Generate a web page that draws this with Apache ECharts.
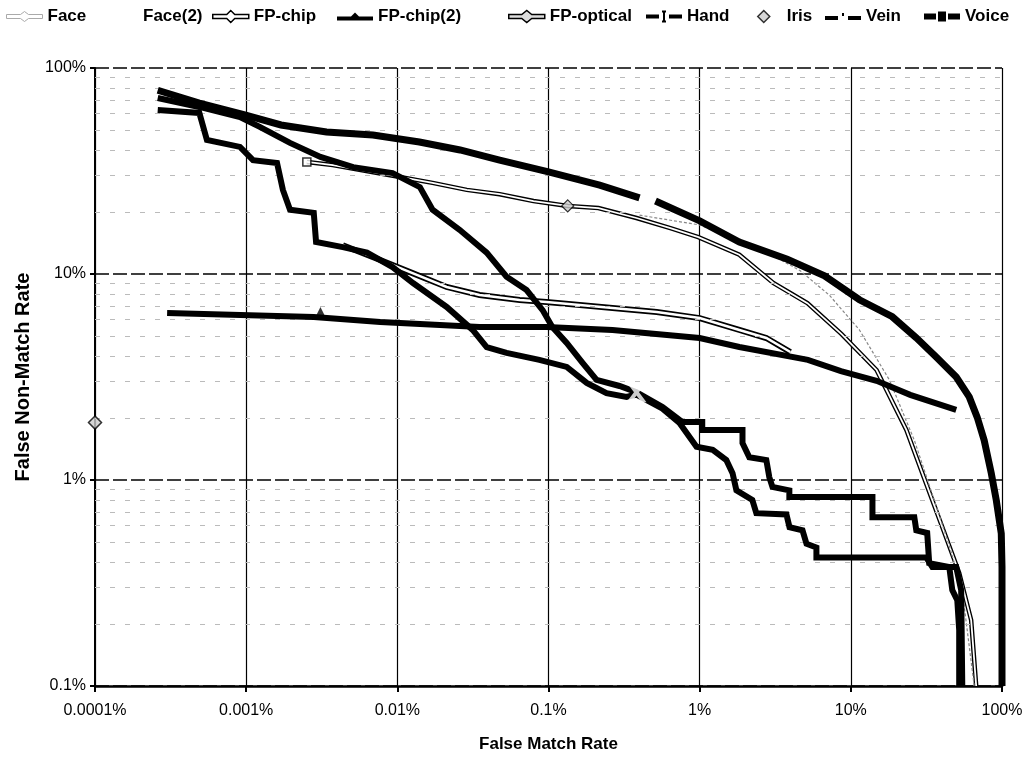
<!DOCTYPE html>
<html>
<head>
<meta charset="utf-8">
<script src="https://cdn.jsdelivr.net/npm/echarts@6/dist/echarts.min.js"></script>
<style>
    html, body { margin: 0; padding: 0; background: #fff; }
    #chart { width: 1034px; height: 767px; }
</style>
</head>
<body>
<div id="chart"></div>
<script>
// tick labels
const xTickLabels = ['0.0001%', '0.001%', '0.01%', '0.1%', '1%', '10%', '100%'];
const yTickLabels = ['0.1%', '1%', '10%', '100%'];
const minorY = [0.2, 0.3, 0.4, 0.5, 0.6, 0.7, 0.8, 0.9, 2, 3, 4, 5, 6, 7, 8, 9, 20, 30, 40, 50, 60, 70, 80, 90];

// curves: [false match rate %, false non-match rate %]
const handCurve = [
    [0.00026, 78], [0.00049, 67.6], [0.00098, 59.2], [0.0017, 52.9], [0.0034, 48.9], [0.0069, 47.3],
    [0.014, 43.7], [0.026, 40], [0.0475, 35.7], [0.1, 31.3], [0.218, 27], [0.40, 23.4], [0.45, '-'],
    [0.51, 22.6], [1.0, 18.1], [1.83, 14.3], [3.8, 11.8], [6.7, 9.8], [11.4, 7.5], [18.8, 6.2],
    [27.1, 4.9], [36.7, 3.95], [49.8, 3.16], [60.7, 2.53], [68.5, 2.02], [76.2, 1.56], [84.9, 1.08],
    [91.6, 0.80], [98.9, 0.55], [100, 0.38], [100, 0.1]
];
const voiceCurve = [
    [0.00026, 71.5], [0.00049, 64.7], [0.00091, 57.8], [0.00123, 51.8], [0.00195, 43.3], [0.0031, 37],
    [0.0051, 33], [0.0093, 30.9], [0.0141, 26.4], [0.0171, 20.5], [0.0258, 16.4], [0.039, 12.7],
    [0.0528, 9.7], [0.0716, 8.36], [0.0914, 6.68], [0.106, 5.53], [0.132, 4.63], [0.168, 3.70],
    [0.208, 3.06], [0.295, 2.86], [0.382, 2.67], [0.568, 2.26], [0.77, 1.91], [1.04, 1.91], [1.04, 1.75],
    [1.92, 1.75], [1.92, 1.51], [2.13, 1.29], [2.76, 1.25], [2.89, 1.03], [3.03, 0.925], [3.92, 0.89],
    [3.92, 0.826], [13.9, 0.826], [13.9, 0.66], [26.3, 0.66], [27.1, 0.57], [32, 0.553], [33, 0.395],
    [44.8, 0.378], [46.9, 0.292], [50.6, 0.261], [52.1, 0.187], [52.1, 0.1]
];
const veinCurve = [
    [0.00026, 62.5], [0.00049, 60.5], [0.00055, 44.7], [0.00091, 41.4], [0.00111, 35.7], [0.0016, 34.6],
    [0.00175, 25.6], [0.00195, 20.5], [0.0028, 19.8], [0.0029, 14.3], [0.00436, 13.5], [0.0063, 12.7],
    [0.0093, 10.8], [0.0127, 9.04], [0.0212, 6.92], [0.0315, 5.35], [0.039, 4.42], [0.0528, 4.14],
    [0.087, 3.83], [0.132, 3.54], [0.179, 2.96], [0.242, 2.64], [0.328, 2.53], [0.382, 2.6],
    [0.568, 2.22], [0.736, 1.89], [0.953, 1.45], [1.22, 1.40], [1.50, 1.25], [1.65, 1.08], [1.75, 0.89],
    [2.23, 0.80], [2.37, 0.69], [3.75, 0.68], [3.93, 0.59], [4.79, 0.57], [5.09, 0.49], [5.92, 0.47],
    [5.92, 0.42], [31.6, 0.42], [34.6, 0.378], [49.8, 0.378], [53.7, 0.292], [54.6, 0.1]
];
const chip2Curve = [
    [0.0003, 6.47], [0.0028, 6.18], [0.0077, 5.85], [0.035, 5.53], [0.097, 5.53], [0.265, 5.35],
    [1.0, 4.89], [1.83, 4.42], [5.2, 3.83], [8.6, 3.38], [14.8, 3.03], [24.7, 2.59], [49.8, 2.19]
];
const chipCurve = [
    [0.00436, 13.8], [0.0077, 11.7], [0.0126, 10.1], [0.0212, 8.65], [0.035, 7.91], [0.0645, 7.48],
    [0.097, 7.31], [0.161, 7.08], [0.265, 6.84], [0.52, 6.54], [1.0, 6.11], [1.83, 5.35], [2.76, 4.89],
    [3.98, 4.18]
];
const opticalCurve = [
    [0.00252, 35], [0.00374, 33.8], [0.0104, 29.6], [0.0171, 27.7], [0.0288, 25.6], [0.0475, 24.4],
    [0.0796, 22.6], [0.134, 21.4], [0.214, 20.9], [0.382, 18.7], [0.64, 16.7], [0.98, 15.1],
    [1.83, 12.4], [3.07, 9.04], [5.16, 7.22], [8.65, 5.12], [14.8, 3.42], [23.3, 1.75], [29.7, 1.08],
    [40.3, 0.59], [52.1, 0.354], [62.5, 0.209], [67.5, 0.1]
];
const faceCurve = [
    [0.40, 19.3], [1.0, 17.3], [2.76, 12.8], [4.6, 10.4], [7.2, 7.9], [11.4, 5.35], [18, 3.06],
    [26.3, 1.56], [35.6, 0.80], [44.8, 0.48], [54.6, 0.29], [65.5, 0.1]
];
const face2Curve = [];
const irisPoint = [[0.0001, 1.9]];

// markers on curves
const voiceMarker = [[0.382, 2.67]];
const chip2Marker = [[0.0031, 6.5]];
const opticalMarker = [[0.134, 21.4]];
const opticalStartMarker = [[0.00252, 35]];

const fontFam = "'Liberation Sans', Arial, sans-serif";
const myChart = echarts.init(document.getElementById('chart'));

// legend entries, each placed on its own like the original
const legendItems = [
    { name: 'Face', left: 1, icon: 'path://M0,4L14,4L18,1L22,4L36,4L36,8L22,8L18,11L14,8L0,8Z', itemStyle: { color: '#fff', borderColor: '#aaa', borderWidth: 1 } },
    { name: 'Face(2)', left: 97, icon: 'rect', itemStyle: { color: 'rgba(0,0,0,0)', borderWidth: 0 } },
    { name: 'FP-chip', left: 207, icon: 'path://M0,4L14,4L18,0L22,4L36,4L36,8L22,8L18,12L14,8L0,8Z', itemStyle: { color: '#fff', borderColor: '#000', borderWidth: 1.5 } },
    { name: 'FP-chip(2)', left: 332, icon: 'path://M0,4L14,4L18,0L22,4L36,4L36,8L0,8Z', itemStyle: { color: '#000', borderWidth: 0 } },
    { name: 'FP-optical', left: 503, icon: 'path://M0,4L13,4L18,0L23,4L36,4L36,8L23,8L18,12L13,8L0,8Z', itemStyle: { color: '#ddd', borderColor: '#000', borderWidth: 1.5 } },
    { name: 'Hand', left: 641, icon: 'path://M0,4L13,4L13,8L0,8Z M16,0L20,0L20,2L19,2L19,10L20,10L20,12L16,12L16,10L17,10L17,2L16,2Z M23,4L36,4L36,8L23,8Z', itemStyle: { color: '#000', borderWidth: 0 } },
    { name: 'Iris', left: 752, icon: 'path://M6,0L12,6L6,12L0,6Z', itemStyle: { color: '#ccc', borderColor: '#000', borderWidth: 1.5 } },
    { name: 'Vein', left: 820, icon: 'path://M0,4L13,4L13,8L0,8Z M17,1L19,1L19,4L17,4Z M23,4L36,4L36,8L23,8Z', itemStyle: { color: '#000', borderWidth: 0 } },
    { name: 'Voice', left: 919, icon: 'path://M0,3L12,3L12,9L0,9Z M14,1L22,1L22,11L14,11Z M24,3L36,3L36,9L24,9Z', itemStyle: { color: '#000', borderWidth: 0 } }
];

const blackLine = (name, data, width) => ({
    name: name,
    type: 'line',
    data: data,
    symbol: 'none',
    z: 5,
    lineStyle: { color: '#000', width: width, cap: 'butt', join: 'miter' }
});
const hollowLine = (name, data, outer, inner) => ([
    {
        name: name + '-edge',
        type: 'line',
        data: data,
        symbol: 'none',
        z: 3,
        lineStyle: { color: '#000', width: outer, join: 'miter' }
    },
    {
        name: name,
        type: 'line',
        data: data,
        symbol: 'none',
        z: 4,
        lineStyle: { color: '#fff', width: inner, join: 'miter' }
    }
]);
const marker = (name, data, symbol, size, style) => ({
    name: name,
    type: 'scatter',
    data: data,
    symbol: symbol,
    symbolSize: size,
    z: 8,
    itemStyle: style
});

const crossPath = 'path://M0,0L3,0L6,4L9,0L12,0L7.5,6L12,12L9,12L6,8L3,12L0,12L4.5,6Z';

let option = {
    backgroundColor: '#fff',
    animation: false,
    legend: legendItems.map(item => ({
        top: 3,
        left: item.left,
        itemWidth: 36,
        itemHeight: 12,
        selectedMode: false,
        textStyle: { fontFamily: fontFam, fontSize: 17, fontWeight: 'bold', color: '#000' },
        data: [{ name: item.name, icon: item.icon, itemStyle: item.itemStyle }]
    })),
    grid: {
        left: 95,
        right: 32,
        top: 68,
        bottom: 81
    },
    xAxis: {
        type: 'log',
        logBase: 10,
        min: 0.0001,
        max: 100,
        name: 'False Match Rate',
        nameLocation: 'middle',
        nameGap: 50,
        nameTextStyle: { fontFamily: fontFam, fontSize: 17, fontWeight: 'bold', color: '#000' },
        axisLine: { show: true, lineStyle: { color: '#000', width: 2.5 } },
        axisTick: { show: true, length: 6, lineStyle: { color: '#000', width: 2 } },
        axisLabel: {
            margin: 17,
            fontFamily: fontFam,
            fontSize: 16,
            color: '#000',
            formatter: v => xTickLabels[Math.round(Math.log10(v)) + 4]
        },
        splitLine: { show: true, lineStyle: { color: '#000', width: 1.2 } }
    },
    yAxis: {
        type: 'log',
        logBase: 10,
        min: 0.1,
        max: 100,
        name: 'False Non-Match Rate',
        nameLocation: 'middle',
        nameGap: 62,
        nameTextStyle: { fontFamily: fontFam, fontSize: 20, fontWeight: 'bold', color: '#000' },
        axisLine: { show: true, lineStyle: { color: '#000', width: 2 } },
        axisTick: { show: true, length: 5, lineStyle: { color: '#000', width: 2 } },
        axisLabel: {
            margin: 9,
            fontFamily: fontFam,
            fontSize: 16,
            color: '#000',
            formatter: v => yTickLabels[Math.round(Math.log10(v)) + 1]
        },
        splitLine: { show: true, lineStyle: { color: '#000', width: 1.5, type: [14, 4] } }
    },
    series: [
        {
            name: 'grid-minor',
            type: 'line',
            data: [],
            silent: true,
            markLine: {
                silent: true,
                symbol: 'none',
                label: { show: false },
                lineStyle: { color: '#bbb', width: 1, type: [5, 10] },
                data: minorY.map(v => ({ yAxis: v }))
            }
        },
        ...hollowLine('FP-chip', chipCurve, 6, 2.5),
        ...hollowLine('FP-optical', opticalCurve, 4.5, 1.8),
        {
            name: 'Face',
            type: 'line',
            data: faceCurve,
            symbol: 'none',
            z: 4,
            lineStyle: { color: '#888', width: 1.2, type: [3, 2] }
        },
        {
            name: 'Face(2)',
            type: 'line',
            data: face2Curve,
            symbol: 'none',
            lineStyle: { color: '#eee', width: 1 }
        },
        blackLine('Hand', handCurve, 7),
        blackLine('FP-chip(2)', chip2Curve, 6),
        blackLine('Vein', veinCurve, 6),
        blackLine('Voice', voiceCurve, 6),
        marker('Iris', irisPoint, 'diamond', 13, { color: '#ccc', borderColor: '#000', borderWidth: 1.5 }),
        marker('voice-x', voiceMarker, crossPath, 20, { color: '#fff' }),
        marker('chip2-tri', chip2Marker, 'triangle', 11, { color: '#000' }),
        marker('optical-mark', opticalMarker, 'diamond', 12, { color: '#ccc', borderColor: '#000', borderWidth: 1.2 }),
        marker('optical-start', opticalStartMarker, 'rect', 8, { color: '#fff', borderColor: '#000', borderWidth: 1.5 })
    ]
};

myChart.setOption(option);
</script>
</body>
</html>
